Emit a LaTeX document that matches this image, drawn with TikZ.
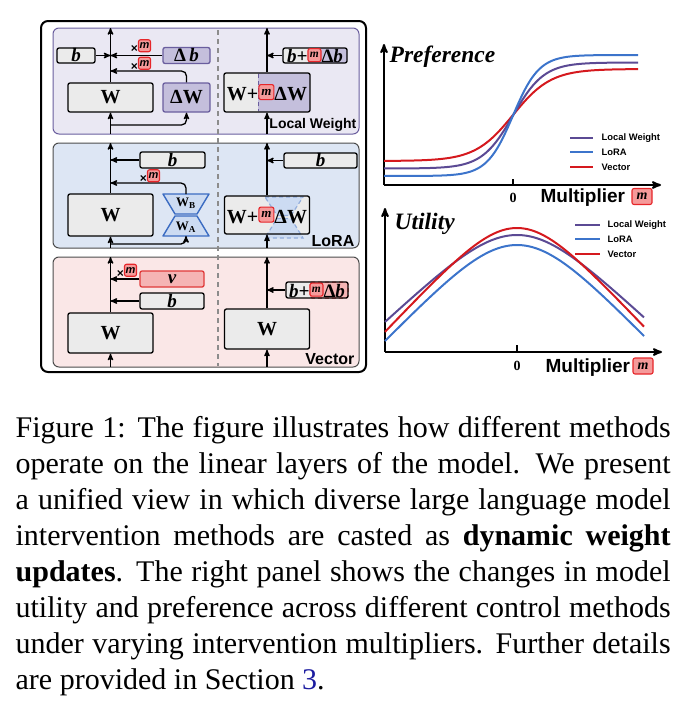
\documentclass[tikz,border=0pt]{standalone}
\usepackage{fontspec}
\setmainfont{Liberation Serif}
\setsansfont{Liberation Sans}
\usepackage{tikz}
\usetikzlibrary{arrows}

\definecolor{lwbg}{HTML}{EAE8F3}
\definecolor{lwline}{HTML}{6A5E9E}
\definecolor{lwfill}{HTML}{C4BFDC}
\definecolor{lorabg}{HTML}{DDE6F4}
\definecolor{lorafill}{HTML}{CCDBF2}
\definecolor{loraline}{HTML}{3B6CC2}
\definecolor{vecbg}{HTML}{FAE7E7}
\definecolor{vecfill}{HTML}{F5B4B4}
\definecolor{vecline}{HTML}{E03A3A}
\definecolor{wgray}{HTML}{EBEBEB}
\definecolor{mfill}{HTML}{F59A9A}
\definecolor{mline}{HTML}{E6262A}
\definecolor{lwcurve}{HTML}{5B4A94}
\definecolor{loracurve}{HTML}{3C74CB}
\definecolor{veccurve}{HTML}{D5191E}
\definecolor{capblue}{HTML}{1C1CA0}

\tikzset{
  box/.style={draw, rounded corners=2pt, line width=1.3pt, fill=wgray, inner sep=0pt},
  lwbox/.style={fill=lwfill, draw=lwline},
  vecbox/.style={fill=vecfill, draw=vecline},
  panel/.style={draw=black!70, line width=1pt, rounded corners=6pt},
  divider/.style={draw=black!45, line width=1.2pt, dash pattern=on 5pt off 4pt},
  lorashape/.style={fill=lorafill, draw=loraline, line width=1.4pt, line join=round},
  loraghost/.style={fill=lorafill, draw=loraline!55, line width=1.2pt, dash pattern=on 4pt off 3pt},
  wfont/.style={font=\fontsize{20}{20}\selectfont\bfseries},
  bfont/.style={font=\fontsize{19}{19}\selectfont\bfseries\itshape},
  xm/.style={font=\fontsize{12}{12}\selectfont\sffamily\bfseries, inner sep=0pt},
  mtagbox/.style={draw=mline, fill=mfill, line width=1.1pt, rounded corners=2pt, inner sep=0pt},
  lab/.style={font=\fontsize{16}{16}\selectfont\sffamily\bfseries, inner sep=0pt, anchor=south east},
  axis/.style={line width=2pt},
  curve/.style={line width=2pt},
  leg/.style={font=\fontsize{9.4}{9.4}\selectfont\sffamily\bfseries, inner sep=0pt, anchor=west},
  axtitle/.style={font=\fontsize{23.5}{23.5}\selectfont\bfseries\itshape, inner sep=0pt, anchor=base west},
  mult/.style={font=\fontsize{19}{19}\selectfont\sffamily\bfseries, inner sep=0pt, anchor=base west},
  zero/.style={font=\fontsize{14}{14}\selectfont\bfseries, inner sep=0pt},
}
\newcommand{\mtag}[2][12pt]{\tikz[baseline={([yshift=-0.5pt]mt.south)}]\node[mtagbox, minimum width=#1, minimum height=#1, font=\fontsize{#2}{#2}\selectfont\bfseries\itshape](mt){m};}

\begin{document}
\begin{tikzpicture}[x=1pt, y=-1pt, >=stealth', line width=1.3pt]
\useasboundingbox (0,0) rectangle (687,712);

% frame and the three method panels
\draw[line width=2pt, rounded corners=7pt] (41,21) rectangle (366,372);
\draw[panel, fill=lwbg, draw=lwline] (53,28) rectangle (359,134);
\draw[panel, fill=lorabg] (53,143) rectangle (359,248);
\draw[panel, fill=vecbg] (53,257) rectangle (359,367);
\draw[divider] (218,30) -- (218,366);

% ---- Local Weight ----
\node[box, minimum width=38pt, minimum height=15pt, bfont]          (bL)  at (76,55.5)   {b};
\node[box, lwbox, minimum width=47pt, minimum height=16pt, bfont]   (dbL) at (186.5,55.5) {{\upshape Δ}\,b};
\node[box, minimum width=85pt, minimum height=29pt, wfont]          (WL)  at (110.5,97.5) {W};
\node[box, lwbox, minimum width=47pt, minimum height=29pt, wfont]   (dWL) at (186.5,97.5) {ΔW};
\coordinate (inL)  at (110.5,134);
\coordinate (outL) at (110.5,28);
\coordinate (sL)   at (110.5,55.5);
\coordinate (tL)   at (110.5,71);
\coordinate (fL)   at (110.5,125);
\draw[->] (inL) -- (WL);
\draw[->] (WL) -- (outL);
\draw[->] (bL) -- (sL);
\draw[->] (dbL) -- (sL);
\draw[->, rounded corners=5pt] (dWL) |- (tL);
\draw[->, rounded corners=5pt] (fL) -| (dWL);
\node[xm] (xmL1) at (141,46) {×\mtag[12pt]{11}};
\node[xm] (xmL2) at (141,63.5) {×\mtag[12pt]{11}};

\begin{scope}
  \clip[rounded corners=2pt] (224,73) rectangle (310,112);
  \fill[wgray]  (224,73) rectangle (258,112);
  \fill[lwfill] (258,73) rectangle (310,112);
\end{scope}
\draw[lwline, line width=1pt, dash pattern=on 4pt off 3pt] (258,74) -- (258,111);
\node[box, fill=none, minimum width=86pt, minimum height=39pt, wfont] (WmL) at (267,92.5) {W+\mtag[15pt]{13}ΔW};
\begin{scope}
  \clip[rounded corners=2pt] (283,48) rectangle (347,63);
  \fill[wgray]  (283,48) rectangle (308,63);
  \fill[lwfill] (308,48) rectangle (347,63);
\end{scope}
\node[box, fill=none, minimum width=64pt, minimum height=15pt, bfont] (bmL) at (315,55.5) {b+\mtag[13pt]{11.5}{\upshape Δ}b};
\coordinate (inL2)  at (267,134);
\coordinate (outL2) at (267,28);
\coordinate (sL2)   at (267,55.5);
\draw[->] (inL2) -- (WmL);
\draw[->] (WmL) -- (outL2);
\draw[->] (bmL) -- (sL2);
\node[lab, font=\fontsize{14}{14}\selectfont\sffamily\bfseries] (labL) at (357,132) {Local Weight};

% ---- LoRA ----
\node[box, minimum width=65pt, minimum height=16pt, bfont] (bR) at (172.5,160) {b};
\node[box, minimum width=85pt, minimum height=42pt, wfont] (WR) at (110.5,215) {W};
\draw[lorashape] (163,194) -- (209,194) -- (197,214) -- (175,214) -- cycle;
\draw[lorashape] (175,216) -- (197,216) -- (209,236) -- (163,236) -- cycle;
\node[font=\fontsize{13}{13}\selectfont\bfseries, inner sep=0pt] (WB) at (186,203.5) {W\textsubscript{B}};
\node[font=\fontsize{13}{13}\selectfont\bfseries, inner sep=0pt] (WA) at (186,227)   {W\textsubscript{A}};
\coordinate (hgTop) at (186,194);
\coordinate (hgBot) at (186,236);
\coordinate (inR)  at (110.5,248);
\coordinate (outR) at (110.5,143);
\coordinate (sR)   at (110.5,160);
\coordinate (tR)   at (110.5,183);
\coordinate (fR)   at (110.5,244);
\draw[->] (inR) -- (WR);
\draw[->] (WR) -- (outR);
\draw[->] (bR) -- (sR);
\draw[->, rounded corners=5pt] (hgTop) |- (tR);
\draw[->, rounded corners=5pt] (fR) -| (hgBot);
\node[xm] (xmR) at (150,176) {×\mtag[12pt]{11}};

\node[box, minimum width=73pt, minimum height=15pt, bfont] (bR2) at (320.5,160.5) {b};
\fill[wgray, rounded corners=2pt] (224.5,196) rectangle (309.5,234);
\draw[loraghost] (265,197) -- (303,197) -- (291,215.5) -- (277,215.5) -- cycle;
\draw[loraghost] (277,218.5) -- (291,218.5) -- (303,238) -- (265,238) -- cycle;
\node[box, fill=none, minimum width=85pt, minimum height=38pt, wfont] (WmR) at (267,215) {W+\mtag[15pt]{13}ΔW};
\coordinate (inR2)  at (267,248);
\coordinate (outR2) at (267,143);
\coordinate (sR2)   at (267,160.5);
\draw[->] (inR2) -- (WmR);
\draw[->] (WmR) -- (outR2);
\draw[->] (bR2) -- (sR2);
\node[lab] (labR) at (355,247) {LoRA};

% ---- Vector ----
\node[box, vecbox, minimum width=64pt, minimum height=16pt, bfont] (vV) at (172,279) {v};
\node[box, minimum width=64pt, minimum height=16pt, bfont]         (bV) at (172,301) {b};
\node[box, minimum width=85pt, minimum height=40pt, wfont]         (WV) at (110.5,333) {W};
\coordinate (inV)  at (110.5,367);
\coordinate (outV) at (110.5,257);
\coordinate (sV1)  at (110.5,279);
\coordinate (sV2)  at (110.5,301);
\draw[->] (inV) -- (WV);
\draw[->] (WV) -- (outV);
\draw[->] (vV) -- (sV1);
\draw[->] (bV) -- (sV2);
\node[xm] (xmV) at (127,270.5) {×\mtag[12pt]{11}};

\node[box, minimum width=85pt, minimum height=40pt, wfont] (WV2) at (267,329) {W};
\begin{scope}
  \clip[rounded corners=2pt] (286,282) rectangle (348,298);
  \fill[wgray]   (286,282) rectangle (310,298);
  \fill[vecfill] (310,282) rectangle (348,298);
\end{scope}
\draw[vecline, line width=1pt, dash pattern=on 4pt off 3pt, rounded corners=2pt] (310,282) rectangle (348,298);
\node[box, fill=none, minimum width=62pt, minimum height=16pt, bfont] (bmV) at (317,290) {b+\mtag[13pt]{11.5}{\upshape Δ}b};
\coordinate (inV2)  at (267,367);
\coordinate (outV2) at (267,257);
\coordinate (sV3)   at (267,290);
\draw[->] (inV2) -- (WV2);
\draw[->] (WV2) -- (outV2);
\draw[->] (bmV) -- (sV3);
\node[lab] (labV) at (355,365) {Vector};

% ---- Preference plot ----
\coordinate (pO) at (384,185);
\coordinate (pY) at (384,44);
\coordinate (pX) at (661,185);
\coordinate (pT1) at (513,185);
\coordinate (pT2) at (513,179);
\draw[axis, ->] (pO) -- (pY);
\draw[axis, ->] (pO) -- (pX);
\draw[axis] (pT1) -- (pT2);
\draw[curve, veccurve]  plot[domain=384:638, samples=120] (\x, {115-46*tanh((\x-513)/38)});
\draw[curve, lwcurve]   plot[domain=384:638, samples=120] (\x, {115.5-53*tanh((\x-513)/31)});
\draw[curve, loracurve] plot[domain=384:638, samples=120] (\x, {115.5-60.5*tanh((\x-513)/26)});
\node[axtitle] (pTitle) at (389,62) {Preference};
\node[zero] (p0) at (513,198) {0};
\node[mult] (pMult) at (540,202) {Multiplier};
\node[mtagbox, minimum width=20pt, minimum height=16pt, font=\fontsize{14}{14}\selectfont\bfseries\itshape] (pM) at (642,196.5) {m};
\draw[curve, lwcurve]   (570,138) -- (593,138);
\draw[curve, loracurve] (570,152) -- (593,152);
\draw[curve, veccurve]  (570,167) -- (593,167);
\node[leg] (pL1) at (601,138) {Local Weight};
\node[leg] (pL2) at (601,152) {LoRA};
\node[leg] (pL3) at (601,167) {Vector};

% ---- Utility plot ----
\coordinate (uO) at (385,352);
\coordinate (uY) at (385,208);
\coordinate (uX) at (662,352);
\coordinate (uT1) at (517,352);
\coordinate (uT2) at (517,345);
\draw[axis, ->] (uO) -- (uY);
\draw[axis, ->] (uO) -- (uX);
\draw[axis] (uT1) -- (uT2);
\draw[curve, lwcurve]   plot[domain=385:644, samples=120] (\x, {235+50.7*ln(cosh((\x-517)/55))});
\draw[curve, loracurve] plot[domain=385:644, samples=120] (\x, {245+56*ln(cosh((\x-517)/55))});
\draw[curve, veccurve]  plot[domain=385:644, samples=120] (\x, {228+50.4*ln(cosh((\x-517)/48))});
\node[axtitle] (uTitle) at (394,229) {Utility};
\node[zero] (u0) at (517,366) {0};
\node[mult] (uMult) at (545,372) {Multiplier};
\node[mtagbox, minimum width=20pt, minimum height=16pt, font=\fontsize{14}{14}\selectfont\bfseries\itshape] (uM) at (643,366) {m};
\draw[curve, lwcurve]   (575,225) -- (600,225);
\draw[curve, loracurve] (575,239) -- (600,239);
\draw[curve, veccurve]  (575,254) -- (600,254);
\node[leg] (uL1) at (607,225) {Local Weight};
\node[leg] (uL2) at (607,239) {LoRA};
\node[leg] (uL3) at (607,254) {Vector};

% ---- caption ----
\node[anchor=north west, inner sep=0pt, text width=655pt, align=justify, font=\fontsize{30}{36}\selectfont] (cap) at (15,415.5)
  {Figure 1: The figure illustrates how different methods\linebreak
   operate on the linear layers of the model. We present\linebreak
   a unified view in which diverse large language model\linebreak
   intervention methods are casted as \textbf{dynamic weight}\linebreak
   \textbf{updates}. The right panel shows the changes in model\linebreak
   utility and preference across different control methods\linebreak
   under varying intervention multipliers. Further details\linebreak
   are provided in Section {\color{capblue}3}.};
\end{tikzpicture}
\end{document}
